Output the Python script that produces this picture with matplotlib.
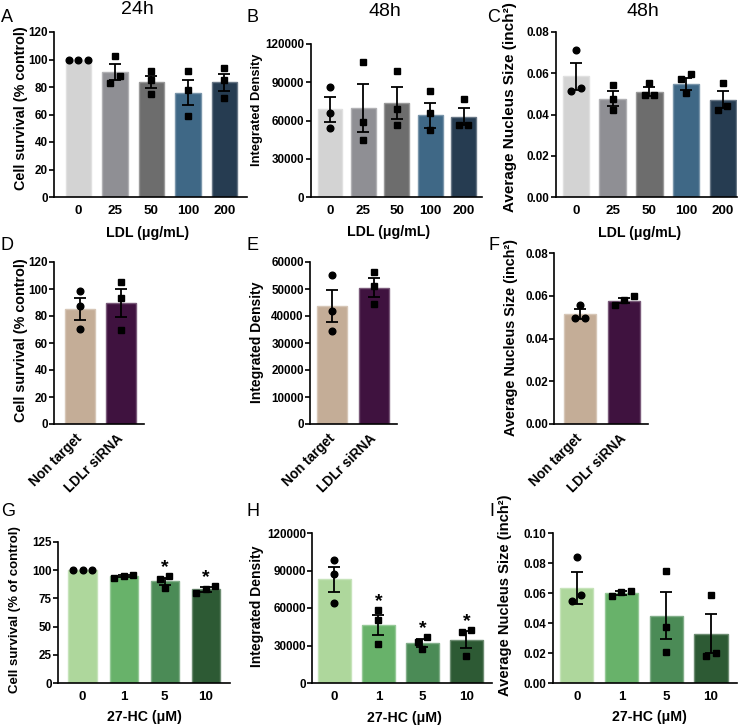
import matplotlib
matplotlib.use('Agg')
import matplotlib.pyplot as plt
from matplotlib.ticker import FormatStrFormatter
from matplotlib.colors import to_rgb
import numpy as np

plt.rcParams['font.family'] = ['Liberation Sans', 'DejaVu Sans']
plt.rcParams['font.weight'] = 'bold'

W, H = 743, 726

# --- data ---
ldl_doses = ['0', '25', '50', '100', '200']
ldl_colors = ['#d3d3d3', '#8f8f94', '#6d6d6d', '#3f6886', '#263c51']

a_mean = [100, 91, 83.5, 76, 83.5]
a_sem = [0, 6, 4.5, 9, 6.3]
a_pts = [[100, 100, 100], [102.5, 82.9, 87.8], [91.6, 84.8, 75.2], [91.6, 78, 59], [93.6, 84.8, 72.2]]

b_mean = [68800, 69600, 74000, 64300, 63000]
b_sem = [9800, 19000, 12500, 9800, 6500]
b_pts = [[86650, 66200, 53800], [106100, 58800, 44600], [98500, 69000, 56500],
         [83500, 65600, 52500], [76700, 56500, 56500]]

c_mean = [0.0585, 0.0477, 0.0511, 0.0548, 0.0472]
c_sem = [0.0065, 0.0035, 0.002, 0.0027, 0.004]
c_pts = [[0.0711, 0.053, 0.0514], [0.0541, 0.0477, 0.0423], [0.0554, 0.0493, 0.0493],
         [0.0596, 0.0572, 0.0504], [0.0554, 0.042, 0.044]]

sirna = ['Non target', 'LDLr siRNA']
sirna_colors = ['#c4ad97', '#3f123f']

d_mean = [85.4, 89.6]
d_sem = [8.1, 10.4]
d_pts = [[98.2, 87.5, 70.5], [105.4, 93, 70]]

e_mean = [43700, 50500]
e_sem = [5900, 3500]
e_pts = [[55200, 41900, 34600], [56400, 51200, 44300]]

f_mean = [0.0515, 0.0577]
f_sem = [0.0022, 0.0012]
f_pts = [[0.0555, 0.0496, 0.0496], [0.0598, 0.0578, 0.0558]]

hc_doses = ['0', '1', '5', '10']
hc_colors = ['#aed79c', '#68b26a', '#4b8b56', '#2d5a34']

g_mean = [100, 94.5, 90, 83]
g_sem = [0, 0.9, 3.3, 2]
g_pts = [[100, 100, 100], [95.6, 92.7, 94.7], [94.7, 91.8, 83.8], [86.2, 83.2, 79.4]]
g_star = [False, False, True, True]

h_mean = [82900, 46600, 32000, 34800]
h_sem = [10000, 8200, 3000, 6500]
h_pts = [[98200, 86900, 63700], [58400, 50400, 31300], [36700, 33100, 27100], [42500, 41100, 21800]]
h_star = [False, True, True, True]

i_mean = [0.0635, 0.060, 0.045, 0.033]
i_sem = [0.0106, 0.0012, 0.0158, 0.013]
i_pts = [[0.0837, 0.0586, 0.0546], [0.058, 0.0615, 0.0605], [0.0748, 0.0376, 0.021], [0.0586, 0.0183, 0.0203]]

fig = plt.figure(figsize=(W / 100, H / 100), dpi=100)


def add_ax(l, t, r, b):
    return fig.add_axes([l / W, 1 - b / H, (r - l) / W, (b - t) / H])


def lighten(c, f):
    r, g, b = to_rgb(c)
    return (r + (1 - r) * f, g + (1 - g) * f, b + (1 - b) * f)


def spread_x(ax, xc, vals):
    # push overlapping points sideways, like a small beeswarm
    bb = ax.get_window_extent()
    y0, y1 = ax.get_ylim()
    x0, x1 = ax.get_xlim()
    ypx = bb.height / (y1 - y0)
    xpx = bb.width / (x1 - x0)
    vals = np.asarray(vals, dtype=float)
    order = np.argsort(vals)
    xs = np.full(len(vals), float(xc))
    groups = [[order[0]]]
    for k in order[1:]:
        if (vals[k] - vals[groups[-1][-1]]) * ypx < 7:
            groups[-1].append(k)
        else:
            groups.append([k])
    step = 9.5 / xpx
    for grp in groups:
        n = len(grp)
        for j, k in enumerate(grp):
            xs[k] = xc + (j - (n - 1) / 2) * step
    return xs


def panel(box, labels, means, sems, pts, colors, ylim, yticks, fmt, xlim, width,
          rot=False, stars=None):
    ax = add_ax(*box)
    x = np.arange(len(labels))
    ax.set_xlim(*xlim)
    ax.set_ylim(*ylim)
    ax.bar(x, means, width=width, color=colors,
           edgecolor=[lighten(c, 0.3) for c in colors], linewidth=1.0, zorder=1)
    for k in range(len(labels)):
        if sems[k] > 0:
            ax.errorbar(x[k], means[k], yerr=sems[k], fmt='none', ecolor='black',
                        elinewidth=1.3, capsize=4.3, capthick=1.3, zorder=3)
        mk = 'o' if k == 0 else 's'
        xs = spread_x(ax, x[k], pts[k])
        ax.plot(xs, pts[k], linestyle='none', marker=mk, markersize=4.8,
                color='black', zorder=4, clip_on=False)
        if stars is not None and stars[k]:
            top = max(max(pts[k]), means[k] + sems[k])
            ax.annotate('*', xy=(x[k], top), xytext=(0, 3), textcoords='offset points',
                        ha='center', va='baseline', fontsize=14, fontweight='bold')
    for s in ['top', 'right']:
        ax.spines[s].set_visible(False)
    for s in ['left', 'bottom']:
        ax.spines[s].set_linewidth(1.2)
    ax.set_yticks(yticks)
    ax.yaxis.set_major_formatter(FormatStrFormatter(fmt))
    ax.tick_params(axis='y', length=3.5, width=1.2, pad=1, labelsize=8.4)
    ax.set_xticks(x)
    if rot:
        ax.set_xticklabels(labels, rotation=45, ha='right', va='center',
                           rotation_mode='anchor', fontsize=9.8, fontweight='bold')
        ax.tick_params(axis='x', length=0, pad=9)
    else:
        ax.set_xticklabels(labels, fontsize=9.6, fontweight='bold')
        ax.tick_params(axis='x', length=0, pad=6)
    for t in ax.get_yticklabels():
        t.set_fontweight('bold')
    return ax


def ftext(x, y, s, **kw):
    fig.text(x / W, 1 - y / H, s, **kw)


# row 1: LDL
panel((54, 32, 246.7, 197), ldl_doses, a_mean, a_sem, a_pts, ldl_colors,
      (0, 120), range(0, 121, 20), '%d', (-0.67, 4.61), 0.70)
panel((310.7, 44, 482.3, 197), ldl_doses, b_mean, b_sem, b_pts, ldl_colors,
      (0, 120000), range(0, 120001, 30000), '%d', (-0.58, 4.56), 0.74)
panel((555.7, 32, 736.7, 197), ldl_doses, c_mean, c_sem, c_pts, ldl_colors,
      (0, 0.08), np.arange(0, 0.081, 0.02), '%.2f', (-0.55, 4.38), 0.72)

# row 2: siRNA
panel((54, 262, 144, 424), sirna, d_mean, d_sem, d_pts, sirna_colors,
      (0, 120), range(0, 121, 20), '%d', (-0.63, 1.56), 0.73, rot=True)
panel((310, 262, 397, 424), sirna, e_mean, e_sem, e_pts, sirna_colors,
      (0, 60000), range(0, 60001, 10000), '%d', (-0.54, 1.55), 0.72, rot=True)
panel((554, 253, 648, 424), sirna, f_mean, f_sem, f_pts, sirna_colors,
      (0, 0.08), np.arange(0, 0.081, 0.02), '%.2f', (-0.59, 1.54), 0.72, rot=True)

# row 3: 27-HC
panel((58, 542, 230, 683), hc_doses, g_mean, g_sem, g_pts, hc_colors,
      (0, 125), range(0, 126, 25), '%d', (-0.60, 3.59), 0.69, stars=g_star)
panel((312, 533, 492, 683), hc_doses, h_mean, h_sem, h_pts, hc_colors,
      (0, 120000), range(0, 120001, 30000), '%d', (-0.51, 3.58), 0.74, stars=h_star)
panel((553, 533, 737, 683), hc_doses, i_mean, i_sem, i_pts, hc_colors,
      (0, 0.10), np.arange(0, 0.101, 0.02), '%.2f', (-0.53, 3.58), 0.74)

# titles and panel letters
for (x, y, s) in [(137, 10, '24h'), (385, 11, '48h'), (643, 11, '48h')]:
    ftext(x, y, s, ha='center', va='center', fontsize=14, fontweight='normal')
for (x, y, s) in [(1, 18, 'A'), (246, 18, 'B'), (487, 18, 'C'),
                  (1, 246, 'D'), (246, 246, 'E'), (488, 246, 'F'),
                  (1, 511, 'G'), (246, 511, 'H'), (489, 511, 'I')]:
    ftext(x, y, s, ha='left', va='center', fontsize=13, fontweight='normal')

# axis labels
for (x, y, s) in [(148, 233, 'LDL (\u03bcg/mL)'), (389, 232, 'LDL (\u03bcg/mL)'),
                  (640, 233, 'LDL (\u03bcg/mL)'), (144, 717, '27-HC (\u03bcM)'),
                  (404, 718, '27-HC (\u03bcM)'), (649, 717, '27-HC (\u03bcM)')]:
    ftext(x, y, s, ha='center', va='center', fontsize=10.2, fontweight='bold')

nuc = 'Average Nucleus Size (inch\u00b2)'
for (x, y, s, fs) in [(21, 108, 'Cell survival (% control)', 10.4),
                      (257, 110, 'Integrated Density', 9.3),
                      (510, 107, nuc, 11),
                      (21, 340, 'Cell survival (% control)', 10.4),
                      (257, 342, 'Integrated Density', 10),
                      (511, 338, nuc, 10.4),
                      (15, 610, 'Cell survival (% of control)', 9.5),
                      (257, 606, 'Integrated Density', 10),
                      (505, 595, nuc, 10.6)]:
    ftext(x, y, s, ha='center', va='center', rotation=90, fontsize=fs, fontweight='bold')

fig.savefig('out.png', dpi=100)
